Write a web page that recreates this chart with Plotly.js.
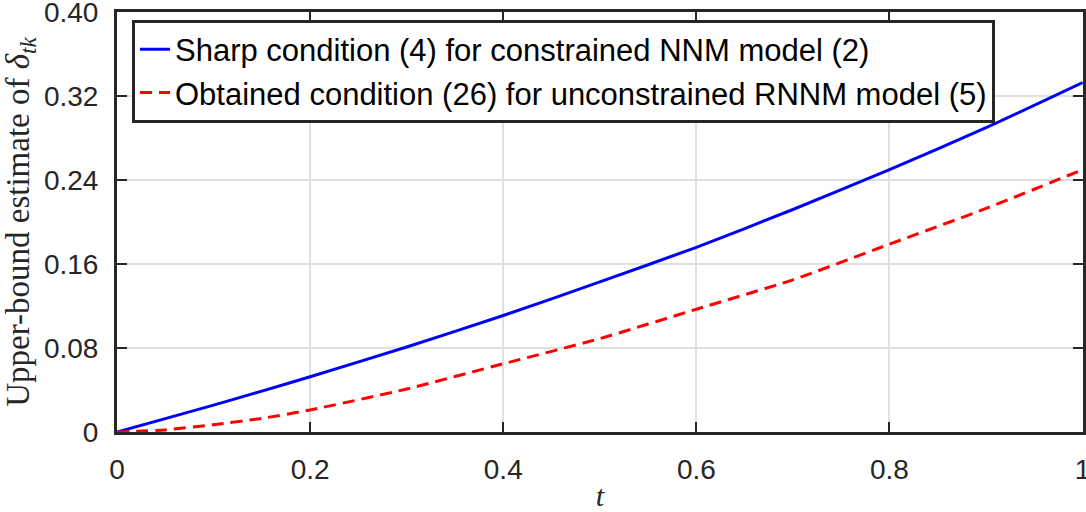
<!DOCTYPE html>
<html>
<head>
<meta charset="utf-8">
<script src="https://cdn.plot.ly/plotly-3.0.1.min.js"></script>
<style>html,body{margin:0;padding:0;background:#fff;}#chart{width:1086px;height:512px;}</style>
</head>
<body>
<div id="chart"></div>
<script>
// t values (x axis)
const tValues = [0, 0.05, 0.1, 0.15, 0.2, 0.3, 0.4, 0.5, 0.6, 0.7, 0.8, 0.9, 1.0];
// Sharp condition (4) for constrained NNM model (2)
const sharpValues = [0, 0.0127, 0.0256, 0.039, 0.0526, 0.081, 0.111, 0.143, 0.176, 0.212, 0.25, 0.29, 0.333];
// Obtained condition (26) for unconstrained RNNM model (5)
const obtainedValues = [0, 0.002, 0.007, 0.013, 0.021, 0.041, 0.065, 0.089, 0.117, 0.145, 0.179, 0.213, 0.25];
const seriesNames = [
  'Sharp condition (4) for constrained NNM model (2)',
  'Obtained condition (26) for unconstrained RNNM model (5)'
];
const xTicks = [0, 0.2, 0.4, 0.6, 0.8, 1];
const xTickLabels = ['0', '0.2', '0.4', '0.6', '0.8', '1'];
const yTicks = [0, 0.08, 0.16, 0.24, 0.32, 0.40];
const yTickLabels = ['0', '0.08', '0.16', '0.24', '0.32', '0.40'];

const axisColor = '#262626';
const traces = [
  {x: tValues, y: sharpValues, name: seriesNames[0], type: 'scatter', mode: 'lines',
   line: {color: '#0000ff', width: 3, shape: 'spline', smoothing: 0.6}},
  {x: tValues, y: obtainedValues, name: seriesNames[1], type: 'scatter', mode: 'lines',
   line: {color: '#ff0000', width: 3, dash: '12px,7px', shape: 'spline', smoothing: 0.6}}
];
const axisCommon = {
  showline: true, linecolor: axisColor, linewidth: 3, mirror: 'ticks',
  ticks: 'inside', ticklen: 10, tickwidth: 2, tickcolor: axisColor,
  showgrid: true, gridcolor: '#e0e0e0', gridwidth: 2, zeroline: false,
  ticklabeloverflow: 'allow',
  tickfont: {family: 'Liberation Sans, Arial, sans-serif', size: 28, color: axisColor}
};
const layout = {
  width: 1086, height: 512,
  margin: {l: 117, r: 3, t: 12, b: 80},
  paper_bgcolor: '#fff', plot_bgcolor: '#fff',
  showlegend: true,
  xaxis: Object.assign({}, axisCommon, {
    range: [0, 1.0004], tickvals: xTicks, ticktext: xTickLabels, ticklabelstandoff: 10,
    title: {text: '<i>t</i>', font: {family: 'Liberation Serif, DejaVu Serif, serif', size: 30, color: axisColor}, standoff: 2}
  }),
  yaxis: Object.assign({}, axisCommon, {
    range: [0, 0.4002], tickvals: yTicks, ticktext: yTickLabels, ticklabelstandoff: 10,
    title: {text: 'Upper-bound estimate of <i>δ</i><sub><i>tk</i></sub>', font: {family: 'Liberation Serif, DejaVu Serif, serif', size: 33, color: axisColor}, standoff: 6}
  }),
  legend: {
    x: 0.0155, y: 0.982, xanchor: 'left', yanchor: 'top',
    bgcolor: '#fff', bordercolor: axisColor, borderwidth: 3,
    font: {family: 'Liberation Sans, Arial, sans-serif', size: 31, color: '#000'},
    tracegroupgap: 0
  }
};
Plotly.newPlot('chart', traces, layout, {displayModeBar: false, staticPlot: true});
</script>
</body>
</html>
